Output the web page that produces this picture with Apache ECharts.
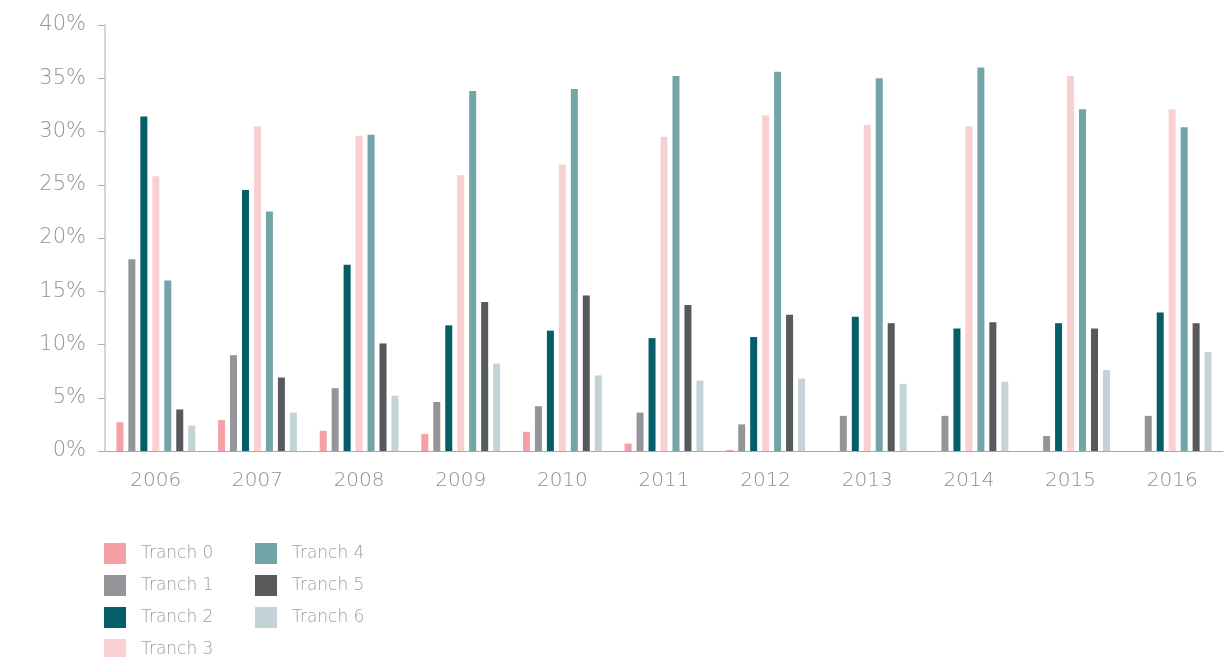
<!DOCTYPE html>
<html>
<head>
<meta charset="utf-8">
<title>Tranch chart</title>
<script src="https://cdn.jsdelivr.net/npm/echarts@6/dist/echarts.min.js"></script>
<style>
  html, body { margin: 0; padding: 0; background: #fff; }
  #chart { width: 1230px; height: 657px; }
</style>
</head>
<body>
<div id="chart"></div>
<script>
const years = ['2006', '2007', '2008', '2009', '2010', '2011', '2012', '2013', '2014', '2015', '2016']
const yTicks = [0, 5, 10, 15, 20, 25, 30, 35, 40]

const tranch0 = [2.7, 2.9, 1.9, 1.6, 1.8, 0.7, 0.1, 0, 0, 0, 0]
const tranch1 = [18.0, 9.0, 5.9, 4.6, 4.2, 3.6, 2.5, 3.3, 3.3, 1.4, 3.3]
const tranch2 = [31.4, 24.5, 17.5, 11.8, 11.3, 10.6, 10.7, 12.6, 11.5, 12.0, 13.0]
const tranch3 = [25.8, 30.5, 29.6, 25.9, 26.9, 29.5, 31.5, 30.6, 30.5, 35.2, 32.1]
const tranch4 = [16.0, 22.5, 29.7, 33.8, 34.0, 35.2, 35.6, 35.0, 36.0, 32.1, 30.4]
const tranch5 = [3.9, 6.9, 10.1, 14.0, 14.6, 13.7, 12.8, 12.0, 12.1, 11.5, 12.0]
const tranch6 = [2.4, 3.6, 5.2, 8.2, 7.1, 6.6, 6.8, 6.3, 6.5, 7.6, 9.3]

const names = ['Tranch 0', 'Tranch 1', 'Tranch 2', 'Tranch 3', 'Tranch 4', 'Tranch 5', 'Tranch 6']
const colors = ['#f4a0a6', '#939598', '#045d67', '#f9cfd1', '#72a4a8', '#58595b', '#c2d4d6']
const allData = [tranch0, tranch1, tranch2, tranch3, tranch4, tranch5, tranch6]

const font = '"DejaVu Sans", sans-serif'
const chart = echarts.init(document.getElementById('chart'))

const legendBase = {
  orient: 'vertical',
  top: 543,
  height: 140,
  padding: 0,
  itemWidth: 22,
  itemHeight: 21,
  itemGap: 11,
  icon: 'rect',
  selectedMode: false,
  textStyle: {
    color: '#9c9c9c',
    fontSize: 17,
    fontFamily: font,
    fontWeight: 200,
    padding: [0, 0, 0, 10],
  },
}

chart.setOption({
  animation: false,
  color: colors,
  grid: {
    left: 105,
    right: 7,
    top: 25,
    bottom: 206,
    containLabel: false,
  },
  legend: [
    Object.assign({}, legendBase, { left: 104, data: names.slice(0, 4) }),
    Object.assign({}, legendBase, { left: 255, data: names.slice(4) }),
  ],
  xAxis: {
    type: 'category',
    data: years,
    axisLine: { lineStyle: { color: '#a8a8a8', width: 1 } },
    axisTick: { show: false },
    axisLabel: {
      color: '#8e8e8e',
      fontSize: 20,
      fontFamily: font,
      fontWeight: 200,
      margin: 20,
    },
  },
  yAxis: {
    type: 'value',
    min: yTicks[0],
    max: yTicks[yTicks.length - 1],
    interval: 5,
    axisLine: { show: true, lineStyle: { color: '#c8c8c8', width: 1.5 } },
    axisTick: { show: true, length: 7, lineStyle: { color: '#b0b0b0' } },
    splitLine: { show: false },
    axisLabel: {
      color: '#939393',
      fontSize: 21,
      fontFamily: font,
      fontWeight: 200,
      margin: 19,
      formatter: '{value}%',
    },
  },
  series: allData.map((d, i) => ({
    name: names[i],
    type: 'bar',
    data: d,
    barWidth: 7,
    barGap: '71%',
    itemStyle: { color: colors[i] },
  })),
})
</script>
</body>
</html>
